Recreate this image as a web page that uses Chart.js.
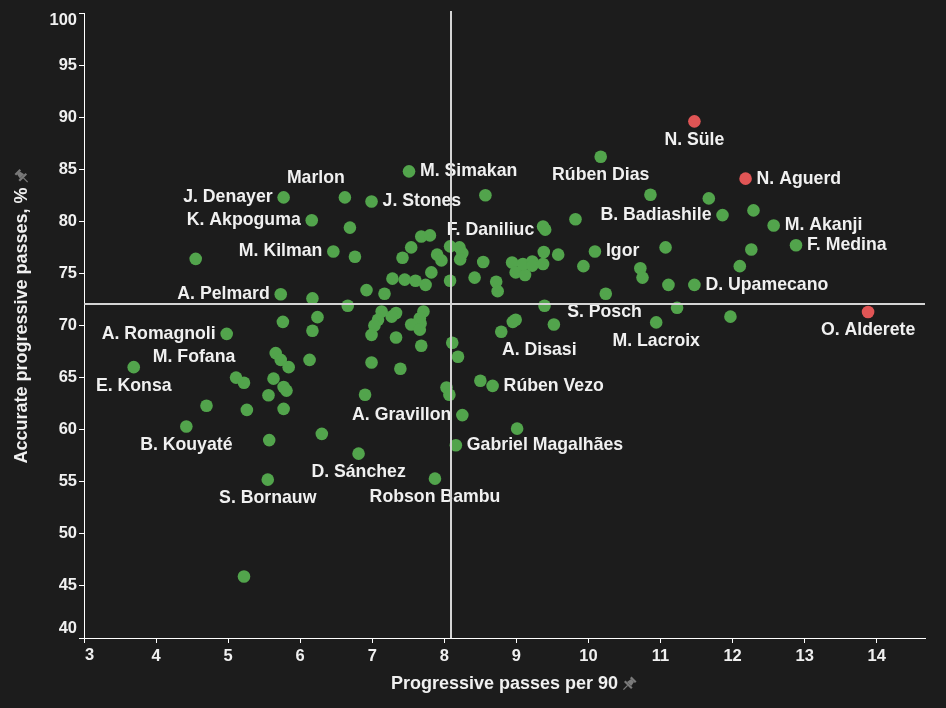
<!DOCTYPE html>
<html>
<head>
<meta charset="utf-8">
<script src="https://cdn.jsdelivr.net/npm/chart.js@4/dist/chart.umd.min.js"></script>
<style>
  html, body { margin: 0; padding: 0; background: #1c1c1c; }
  #wrap { width: 946px; height: 708px; }
</style>
</head>
<body>
<div id="wrap"><canvas id="c" width="946" height="708"></canvas></div>
<script>
// ---- Data ----
const xAxisTitle = "Progressive passes per 90";
const yAxisTitle = "Accurate progressive passes, %";
const xTicks = [3, 4, 5, 6, 7, 8, 9, 10, 11, 12, 13, 14];
const yTicks = [40, 45, 50, 55, 60, 65, 70, 75, 80, 85, 90, 95, 100];
const medianX = 8.09;
const medianY = 72.1;
const highlighted = ["N. Süle", "N. Aguerd", "O. Alderete"];

const playerNames = ["N. Süle", "N. Aguerd", "O. Alderete", "Rúben Dias", "M. Simakan", "Marlon",
  "J. Denayer", "J. Stones", "K. Akpoguma", "M. Kilman", "F. Daniliuc", "B. Badiashile",
  "M. Akanji", "F. Medina", "Igor", "D. Upamecano", "S. Posch", "M. Lacroix", "A. Pelmard",
  "A. Romagnoli", "M. Fofana", "E. Konsa", "A. Disasi", "Rúben Vezo", "A. Gravillon",
  "Gabriel Magalhães", "B. Kouyaté", "D. Sánchez", "S. Bornauw", "Robson Bambu"];
const playerX = [11.47, 12.18, 13.88, 10.17, 7.51, 6.62, 5.77, 6.99, 6.16, 6.46, 9.40, 11.86,
  12.57, 12.88, 10.09, 11.47, 9.39, 10.94, 5.73, 4.98, 5.11, 3.69, 8.79, 8.67, 8.25,
  8.16, 4.42, 6.81, 5.55, 7.87];
const playerY = [89.6, 84.1, 71.3, 86.2, 84.8, 82.3, 82.3, 81.9, 80.1, 77.1, 79.2, 80.6,
  79.6, 77.7, 77.1, 73.9, 71.9, 70.3, 73.0, 69.2, 65.0, 66.0, 69.4, 64.2, 61.4,
  58.5, 60.3, 57.7, 55.2, 55.3];

const otherX = [4.55, 4.70, 5.22, 5.26, 5.22, 5.56, 5.57, 5.66, 5.73, 5.84, 5.63, 5.77, 5.81, 5.77,
  5.76, 6.17, 6.24, 6.17, 6.13, 6.30, 6.69, 6.76, 6.66, 6.92, 7.17, 7.28, 7.45, 7.60, 7.74,
  7.82, 7.54, 7.42, 7.68, 7.80, 7.90, 7.96, 8.08, 8.21, 8.25, 8.22, 8.08, 8.42, 8.54, 8.72,
  8.74, 8.57, 8.94, 8.99, 9.12, 9.09, 9.22, 9.22, 9.37, 9.38, 9.37, 9.58, 9.82, 9.93, 10.24,
  10.86, 11.07, 10.72, 10.75, 11.11, 11.23, 11.67, 12.29, 12.26, 12.10, 11.97, 8.99, 8.95,
  9.52, 8.50, 9.01, 8.11, 8.19, 8.03, 8.07, 7.71, 7.66, 7.67, 7.54, 7.66, 7.68, 7.13, 7.33,
  7.27, 7.08, 7.03, 6.99, 7.33, 6.99, 7.39, 6.90];
const otherY = [76.4, 62.3, 64.5, 61.9, 45.9, 63.3, 59.0, 67.35, 66.7, 66.0, 64.9, 64.1, 63.75, 62.0,
  70.35, 72.6, 70.8, 69.5, 66.7, 59.6, 79.4, 76.6, 71.9, 73.4, 73.05, 74.5, 74.4, 74.3, 73.9,
  75.1, 77.5, 76.5, 78.55, 78.65, 76.8, 76.25, 77.6, 77.5, 76.95, 76.35, 74.3, 74.6, 76.1, 74.2,
  73.3, 82.5, 76.05, 75.1, 74.85, 75.9, 76.15, 75.75, 75.9, 77.05, 79.5, 76.8, 80.2, 75.7, 73.05,
  82.55, 77.5, 75.5, 74.6, 73.9, 71.7, 82.2, 81.05, 77.3, 75.7, 70.85, 70.55, 70.35,
  70.1, 64.7, 60.1, 68.35, 67.0, 64.05, 63.35, 71.35, 70.7, 70.2, 70.1, 69.6, 68.05, 71.35, 71.2,
  70.85, 70.55, 70.0, 69.1, 68.85, 66.45, 65.85, 63.35];

// ---- Label placement (style) ----
const labelPlacement = ["below", "right", "below", "below", "right", "aboveLeft",
  "left", "right", "left", "left", "left", "left",
  "right", "right", "right", "right", "poschSpot", "below", "left",
  "left", "fofanaSpot", "below", "disasiSpot", "right", "left",
  "right", "below", "below", "below", "below"];
const placementOffsets = {
  right: [11, 0, "left"], left: [-11, 0, "right"], below: [0, 18.5, "center"],
  above: [0, -18, "center"], aboveLeft: [-29, -19, "center"],
  poschSpot: [60, 6, "center"], fofanaSpot: [-42, -20, "center"], disasiSpot: [38, 18, "center"]
};

// ---- Build datasets ----
const greenPts = [], redPts = [];
playerNames.forEach((n, i) => {
  (highlighted.includes(n) ? redPts : greenPts).push({ x: playerX[i], y: playerY[i] });
});
otherX.forEach((x, i) => greenPts.push({ x: x, y: otherY[i] }));

const FONT = "'Liberation Sans', Arial, sans-serif";
const TXT = "#f0f0f0";
const TICK_FONT = "bold 16.5px " + FONT;

function drawPin(ctx, cx, cy, rot) {
  ctx.save();
  ctx.translate(cx, cy);
  ctx.rotate(rot);
  ctx.fillStyle = "#7a7a7a";
  ctx.strokeStyle = "#7a7a7a";
  ctx.fillRect(-3.5, -7, 7, 2.2);
  ctx.beginPath();
  ctx.moveTo(-2, -5); ctx.lineTo(2, -5); ctx.lineTo(3, 0); ctx.lineTo(-3, 0); ctx.closePath();
  ctx.fill();
  ctx.fillRect(-5, 0, 10, 2.2);
  ctx.lineWidth = 1.3;
  ctx.beginPath(); ctx.moveTo(0, 2); ctx.lineTo(0, 8); ctx.stroke();
  ctx.restore();
}

const edgeX = [xTicks[0]];
const edgeY = [yTicks[0], yTicks[yTicks.length - 1]];

const overlay = {
  id: "overlay",
  afterDatasetsDraw(chart) {
    const ctx = chart.ctx, xs = chart.scales.x, ys = chart.scales.y, ca = chart.chartArea;
    ctx.save();
    ctx.font = "bold 17.7px " + FONT;
    ctx.fillStyle = TXT;
    ctx.textBaseline = "middle";
    playerNames.forEach((n, i) => {
      const px = xs.getPixelForValue(playerX[i]);
      const py = ys.getPixelForValue(playerY[i]);
      const o = placementOffsets[labelPlacement[i]];
      ctx.textAlign = o[2];
      ctx.fillText(n, px + o[0], py + o[1]);
    });
    // median lines
    ctx.strokeStyle = "#d4d4d4";
    ctx.lineWidth = 2;
    const mx = Math.round(xs.getPixelForValue(medianX));
    const my = Math.round(ys.getPixelForValue(medianY));
    ctx.beginPath();
    ctx.moveTo(mx, ca.top - 2); ctx.lineTo(mx, ca.bottom);
    ctx.moveTo(ca.left, my); ctx.lineTo(ca.right, my);
    ctx.stroke();
    ctx.restore();
  },
  afterDraw(chart) {
    const ctx = chart.ctx, ca = chart.chartArea, xs = chart.scales.x, ys = chart.scales.y;
    ctx.save();
    // edge tick labels, kept inside the axis span
    ctx.font = TICK_FONT;
    ctx.fillStyle = TXT;
    ctx.textBaseline = "middle";
    ctx.textAlign = "left";
    ctx.fillText(String(edgeX[0]), xs.getPixelForValue(edgeX[0]) + 1, 655);
    ctx.textAlign = "right";
    ctx.fillText(String(edgeY[0]), 77, ys.getPixelForValue(edgeY[0]) - 10);
    ctx.fillText(String(edgeY[1]), 77, ys.getPixelForValue(edgeY[1]) + 7);
    // axis titles
    ctx.font = "bold 18px " + FONT;
    ctx.textAlign = "center";
    const cxm = (ca.left + ca.right) / 2;
    ctx.fillText(xAxisTitle, cxm, 684);
    const wx = ctx.measureText(xAxisTitle).width;
    drawPin(ctx, cxm + wx / 2 + 11, 684, Math.PI / 4);
    const cym = (ca.top + ca.bottom) / 2;
    ctx.save();
    ctx.translate(22, cym);
    ctx.rotate(-Math.PI / 2);
    ctx.fillText(yAxisTitle, 0, 0);
    const wy = ctx.measureText(yAxisTitle).width;
    drawPin(ctx, wy / 2 + 11, 0, Math.PI / 4);
    ctx.restore();
    ctx.restore();
  }
};

new Chart(document.getElementById("c"), {
  type: "scatter",
  data: {
    datasets: [
      { data: greenPts, backgroundColor: "#52a44c", borderWidth: 0, pointRadius: 6.3, pointHoverRadius: 6.3 },
      { data: redPts, backgroundColor: "#e05555", borderWidth: 0, pointRadius: 6.3, pointHoverRadius: 6.3 }
    ]
  },
  options: {
    responsive: false,
    animation: false,
    events: [],
    layout: { padding: { top: 13, right: 21, left: 0, bottom: 0 } },
    plugins: { legend: { display: false }, tooltip: { enabled: false } },
    scales: {
      x: {
        type: "linear", min: 3, max: 14.67,
        afterFit(s) { s.height = 70; },
        afterBuildTicks(s) { s.ticks = xTicks.map(v => ({ value: v })); },
        ticks: {
          color: TXT, font: { family: FONT, size: 16.5, weight: "bold" }, padding: 4, maxRotation: 0,
          callback: v => edgeX.includes(v) ? "" : String(v)
        },
        grid: { display: true, drawOnChartArea: false, drawTicks: true, tickLength: 5, color: "#ffffff" },
        border: { display: true, color: "#ffffff", width: 1 }
      },
      y: {
        type: "linear", min: 40, max: 100,
        afterFit(s) { s.width = 84; },
        afterBuildTicks(s) { s.ticks = yTicks.map(v => ({ value: v })); },
        ticks: {
          color: TXT, font: { family: FONT, size: 16.5, weight: "bold" }, padding: 2,
          callback: v => edgeY.includes(v) ? "" : String(v)
        },
        grid: { display: true, drawOnChartArea: false, drawTicks: true, tickLength: 5, color: "#ffffff" },
        border: { display: true, color: "#ffffff", width: 1 }
      }
    }
  },
  plugins: [overlay]
});
</script>
</body>
</html>
